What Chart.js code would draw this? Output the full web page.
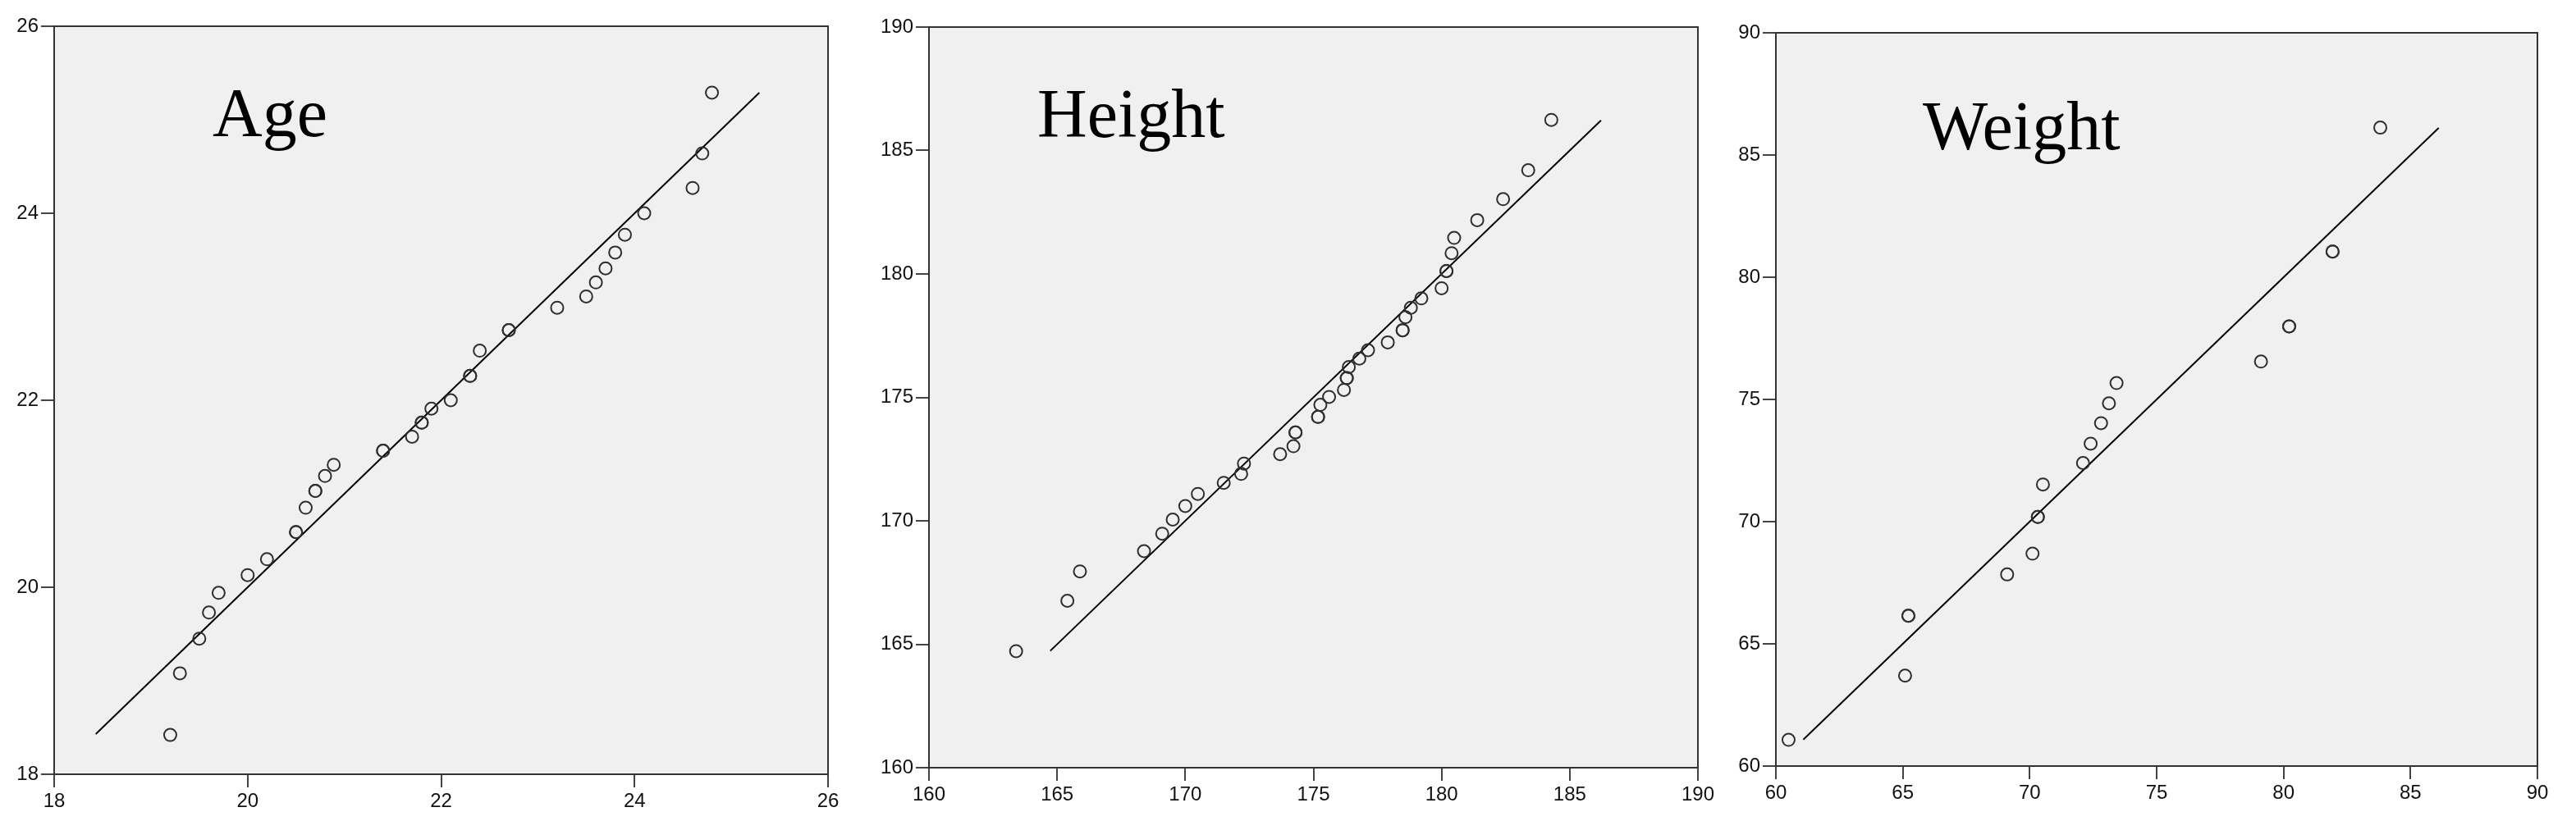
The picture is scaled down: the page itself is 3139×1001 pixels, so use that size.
<!DOCTYPE html>
<html><head><meta charset="utf-8">
<script src="https://cdn.jsdelivr.net/npm/chart.js@4.4.1/dist/chart.umd.min.js"></script>
<style>
html,body{margin:0;padding:0;background:#fff;width:3139px;height:1001px;overflow:hidden}
.box{position:absolute;top:0;height:1001px}
canvas{display:block}
</style></head><body>
<div class="box" style="left:0;width:1060px"><canvas id="c1" width="1060" height="1001"></canvas></div>
<div class="box" style="left:1060px;width:1050px"><canvas id="c2" width="1050" height="1001"></canvas></div>
<div class="box" style="left:2110px;width:1029px"><canvas id="c3" width="1029" height="1001"></canvas></div>
<script>
// ---- Data (observed vs expected, Q-Q style) ----
const ageTitle = "Age";
const ageX = [19.20,19.30,19.50,19.60,19.70,20.00,20.20,20.50,20.50,20.60,20.70,20.70,20.80,20.89,21.40,21.40,21.70,21.80,21.80,21.90,22.10,22.30,22.30,22.40,22.70,22.70,23.20,23.50,23.60,23.70,23.80,23.90,24.10,24.60,24.70,24.80];
const ageY = [18.42,19.08,19.45,19.73,19.94,20.13,20.30,20.59,20.59,20.85,21.03,21.03,21.19,21.31,21.46,21.46,21.61,21.76,21.76,21.91,22.00,22.26,22.26,22.53,22.75,22.75,22.99,23.11,23.26,23.41,23.58,23.77,24.00,24.27,24.64,25.29];
const ageLine = [18.43, 25.29];
const ageTicks = [18, 26, 2];

const heightTitle = "Height";
const heightX = [163.40,165.40,165.89,168.39,169.10,169.51,170.00,170.49,171.50,172.18,172.29,173.70,174.22,174.30,174.30,175.18,175.18,175.27,175.61,176.19,176.30,176.30,176.38,176.79,177.13,177.90,178.48,178.48,178.59,178.80,179.21,180.00,180.19,180.19,180.39,180.49,181.39,182.40,183.38,184.28];
const heightY = [164.72,166.76,167.95,168.77,169.48,170.05,170.60,171.09,171.54,171.90,172.32,172.70,173.02,173.58,173.58,174.21,174.21,174.70,175.02,175.30,175.78,175.78,176.23,176.57,176.91,177.23,177.72,177.72,178.25,178.63,179.01,179.42,180.12,180.12,180.84,181.46,182.18,183.03,184.20,186.24];
const heightLine = [164.73, 186.22];
const heightTicks = [160, 190, 5];

const weightTitle = "Weight";
const weightX = [60.50,65.09,65.22,65.22,69.11,70.11,70.32,70.32,70.52,72.10,72.40,72.81,73.12,73.42,79.11,80.22,80.22,81.93,81.93,83.81];
const weightY = [61.07,63.70,66.15,66.15,67.84,68.69,70.19,70.19,71.52,72.40,73.19,74.03,74.84,75.67,76.55,77.99,77.99,81.05,81.05,86.12];
const weightLine = [61.08, 86.11];
const weightTicks = [60, 90, 5];

const frame = {
  id: 'frame',
  beforeDatasetsDraw(chart) {
    const a = chart.chartArea, ctx = chart.ctx;
    ctx.save();
    ctx.fillStyle = '#f0f0f0';
    ctx.fillRect(a.left, a.top, a.right - a.left, a.bottom - a.top);
    ctx.restore();
  },
  afterDraw(chart, args, opts) {
    const a = chart.chartArea, ctx = chart.ctx;
    ctx.save();
    ctx.strokeStyle = '#333';
    ctx.lineWidth = 2;
    ctx.strokeRect(a.left, a.top, a.right - a.left, a.bottom - a.top);
    ctx.fillStyle = '#000';
    ctx.font = '84px "Liberation Serif", "DejaVu Serif", serif';
    ctx.textBaseline = 'alphabetic';
    ctx.textAlign = 'left';
    ctx.fillText(opts.text, a.left + opts.dx, a.top + opts.dy);
    ctx.restore();
  }
};

function build(id, title, xs, ys, line, t, geo) {
  const pts = xs.map((x, i) => ({x: x, y: ys[i]}));
  const axis = (isX) => ({
    type: 'linear', min: t[0], max: t[1],
    ticks: { stepSize: t[2], color: '#111', padding: 3, maxRotation: 0, autoSkip: false,
             font: { family: 'Liberation Sans', size: 24 } },
    grid: { drawOnChartArea: false, drawTicks: true, tickLength: 16, color: '#444', lineWidth: 2 },
    border: { color: '#333', width: 2 },
    afterFit: isX ? (s) => { s.height = geo.xh; } : (s) => { s.width = geo.yw; }
  });
  new Chart(document.getElementById(id), {
    type: 'scatter',
    data: { datasets: [
      { data: pts, pointRadius: 7.5, pointBorderWidth: 2, borderColor: '#2e2e2e', backgroundColor: 'rgba(0,0,0,0)', pointStyle: 'circle' },
      { type: 'line', data: [{x: line[0], y: line[0]}, {x: line[1], y: line[1]}], borderColor: '#000', borderWidth: 2, pointRadius: 0, fill: false }
    ]},
    options: {
      responsive: false, animation: false, devicePixelRatio: 1,
      layout: { padding: { left: 0, right: geo.pr, top: geo.pt, bottom: 0 } },
      plugins: { legend: { display: false }, tooltip: { enabled: false },
                 frame: { text: title, dx: geo.dx, dy: geo.dy } },
      scales: { x: axis(true), y: axis(false) }
    },
    plugins: [frame]
  });
}

build('c1', ageTitle, ageX, ageY, ageLine, ageTicks, { yw: 66, xh: 57, pr: 51, pt: 32, dx: 193, dy: 134 });
build('c2', heightTitle, heightX, heightY, heightLine, heightTicks, { yw: 72, xh: 65, pr: 41, pt: 33, dx: 132, dy: 134 });
build('c3', weightTitle, weightX, weightY, weightLine, weightTicks, { yw: 54, xh: 67, pr: 47, pt: 40, dx: 179, dy: 142 });
</script>
</body></html>
